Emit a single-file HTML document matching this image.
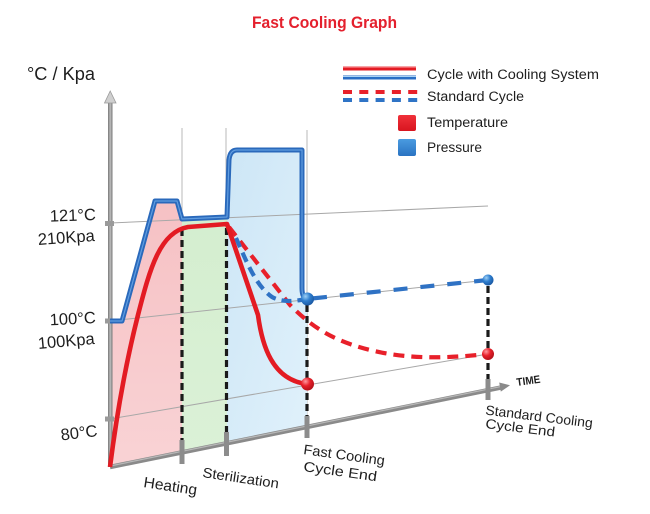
<!DOCTYPE html>
<html><head><meta charset="utf-8"><style>
html,body{margin:0;padding:0;background:#fff;}
svg{display:block;}
text{font-family:"Liberation Sans",sans-serif;fill:#1e1e1e;}
</style></head><body>
<svg width="650" height="514" viewBox="0 0 650 514" xmlns="http://www.w3.org/2000/svg">
<defs>
<linearGradient id="pink" x1="0" y1="0" x2="0" y2="1"><stop offset="0" stop-color="#f6c1c4"/><stop offset="1" stop-color="#f9d3d5"/></linearGradient>
<linearGradient id="green" x1="0" y1="0" x2="0" y2="1"><stop offset="0" stop-color="#d4eecf"/><stop offset="1" stop-color="#dbf1d7"/></linearGradient>
<linearGradient id="blue" x1="0" y1="0" x2="1" y2="1"><stop offset="0" stop-color="#cde6f6"/><stop offset="1" stop-color="#e0f1fb"/></linearGradient>
<linearGradient id="yax" x1="0" y1="0" x2="1" y2="0"><stop offset="0" stop-color="#767676"/><stop offset="0.5" stop-color="#bcbcbc"/><stop offset="1" stop-color="#767676"/></linearGradient>
<radialGradient id="bdot" cx="0.35" cy="0.3" r="0.7"><stop offset="0" stop-color="#9fd0f5"/><stop offset="0.5" stop-color="#2f7fd0"/><stop offset="1" stop-color="#1b5aa5"/></radialGradient>
<radialGradient id="rdot" cx="0.35" cy="0.3" r="0.7"><stop offset="0" stop-color="#ff9aa0"/><stop offset="0.5" stop-color="#e8202a"/><stop offset="1" stop-color="#b5121a"/></radialGradient>
<linearGradient id="rsq" x1="0" y1="0" x2="0" y2="1"><stop offset="0" stop-color="#f0313a"/><stop offset="1" stop-color="#d8151f"/></linearGradient>
<linearGradient id="bsq" x1="0" y1="0" x2="0" y2="1"><stop offset="0" stop-color="#4a9be0"/><stop offset="1" stop-color="#2a73c2"/></linearGradient>
</defs>

<!-- Title -->
<text x="252" y="28" font-size="16.5" font-weight="bold" style="fill:#e4202d" textLength="145" lengthAdjust="spacingAndGlyphs">Fast Cooling Graph</text>

<!-- Y axis unit label -->
<text x="27" y="80" font-size="18" textLength="68" lengthAdjust="spacingAndGlyphs">°C / Kpa</text>

<!-- Legend -->
<line x1="343" y1="68.5" x2="416" y2="68.5" stroke="#e31b23" stroke-width="4"/>
<line x1="343" y1="67.3" x2="416" y2="67.3" stroke="#f7777c" stroke-width="1"/>
<line x1="343" y1="77.5" x2="416" y2="77.5" stroke="#2a6ec4" stroke-width="4"/>
<line x1="343" y1="76.5" x2="416" y2="76.5" stroke="#a9d4f5" stroke-width="1"/>
<line x1="343" y1="92" x2="418" y2="92" stroke="#e8202a" stroke-width="4" stroke-dasharray="9 7.3"/>
<line x1="343" y1="100" x2="418" y2="100" stroke="#2f74c6" stroke-width="4" stroke-dasharray="9 7.3"/>
<rect x="398" y="115" width="18" height="16" rx="2" fill="url(#rsq)"/>
<rect x="398" y="139" width="18" height="17" rx="2" fill="url(#bsq)"/>
<text x="427" y="79" font-size="13.5" textLength="172" lengthAdjust="spacingAndGlyphs">Cycle with Cooling System</text>
<text x="427" y="101" font-size="13.5" textLength="97" lengthAdjust="spacingAndGlyphs">Standard Cycle</text>
<text x="427" y="127" font-size="13.5" textLength="81" lengthAdjust="spacingAndGlyphs">Temperature</text>
<text x="427" y="152" font-size="13.5" textLength="55" lengthAdjust="spacingAndGlyphs">Pressure</text>

<!-- vertical grid lines (upper parts) -->
<line x1="182" y1="128" x2="182" y2="452" stroke="#b8b8b8" stroke-width="1"/>
<line x1="226" y1="128" x2="226" y2="443" stroke="#b8b8b8" stroke-width="1"/>
<line x1="307" y1="130" x2="307" y2="427" stroke="#b8b8b8" stroke-width="1"/>

<!-- fills -->
<path d="M111,467 L111,321 L122,321 L155,201 L177,201 L182,219 L182,452 Z" fill="url(#pink)"/>
<path d="M182,219 L227,217 L227,443 L182,452 Z" fill="url(#green)"/>
<path d="M227,443 L227,217 L229,160 Q230,150 237,150 L302,150 L302,290 Q303,299 307,299 L307,427 Z" fill="url(#blue)"/>

<!-- horizontal (perspective) grid lines -->
<line x1="110" y1="223" x2="488" y2="206" stroke="#a8a8a8" stroke-width="1"/>
<line x1="110" y1="321" x2="488" y2="280" stroke="#a8a8a8" stroke-width="1"/>
<line x1="110" y1="419" x2="488" y2="354" stroke="#a8a8a8" stroke-width="1"/>

<!-- axes -->
<rect x="108" y="101" width="4.5" height="366" fill="url(#yax)"/>
<polygon points="110.2,91 116,103 104.5,103" fill="#cfcfcf" stroke="#9a9a9a" stroke-width="0.8"/>
<line x1="110" y1="467" x2="502" y2="387.3" stroke="#8a8a8a" stroke-width="4.5"/>
<line x1="110" y1="466" x2="502" y2="386.3" stroke="#b8b8b8" stroke-width="1.2"/>
<polygon points="510,385.3 500.8,391.6 499.2,382.5" fill="#8a8a8a"/>
<!-- y ticks -->
<rect x="105" y="221" width="9" height="5" fill="#9a9a9a"/>
<rect x="105" y="318.5" width="9" height="5" fill="#9a9a9a"/>
<rect x="105" y="416.5" width="9" height="5" fill="#9a9a9a"/>

<!-- black dashed verticals -->
<g stroke="#1a1a1a" stroke-width="3.2" stroke-dasharray="7 4">
<line x1="182" y1="229" x2="182" y2="446"/>
<line x1="226.5" y1="228" x2="226.5" y2="438"/>
<line x1="307" y1="305" x2="307" y2="420"/>
<line x1="488" y1="286" x2="488" y2="382"/>
</g>

<!-- x ticks -->
<rect x="179.5" y="440" width="5" height="24" fill="#8c8c8c"/>
<rect x="224" y="432" width="5" height="24" fill="#8c8c8c"/>
<rect x="304.5" y="416" width="5" height="22" fill="#8c8c8c"/>
<rect x="485.5" y="379" width="5" height="21" fill="#8c8c8c"/>

<!-- standard cycle dashed curves -->
<path d="M229,227 L290,305 C310,325 330,340 370,350 C410,360 450,358 488,354" fill="none" stroke="#e8202a" stroke-width="4.2" stroke-dasharray="11 7"/>
<path d="M236,238 C246,260 255,285 272,297 C283,303 295,301 307,299" fill="none" stroke="#2f72c4" stroke-width="4.2" stroke-dasharray="10 6"/>
<line x1="313" y1="298.4" x2="484" y2="280.4" stroke="#2f72c4" stroke-width="4.2" stroke-dasharray="14 13"/>

<!-- pressure solid -->
<path d="M110,321 L122,321 L155,201 L177,201 L182,219 L227,217 L229,160 Q230,150 237,150 L302,150 L302,288 Q302,298 307,299" fill="none" stroke="#2a69bb" stroke-width="5" stroke-linejoin="round"/>
<path d="M110,321 L122,321 L155,201 L177,201 L182,219 L227,217 L229,160 Q230,150 237,150 L302,150 L302,288 Q302,298 307,299" fill="none" stroke="#6eaaea" stroke-width="1.2" stroke-linejoin="round" opacity="0.8"/>

<!-- temperature solid -->
<path d="M110,467 C116,420 124,370 138,315 C150,268 160,232 188,227 L227,224 L258,315 C262,345 272,380 307,384" fill="none" stroke="#e31b23" stroke-width="4.6" stroke-linejoin="round"/>

<!-- dots -->
<circle cx="307.5" cy="299" r="6.5" fill="url(#bdot)"/>
<circle cx="307.5" cy="384" r="6.5" fill="url(#rdot)"/>
<circle cx="488" cy="280" r="5.5" fill="url(#bdot)"/>
<circle cx="488" cy="354" r="6" fill="url(#rdot)"/>

<!-- y labels -->
<text font-size="16.5" text-anchor="end" transform="translate(96,220) rotate(-2)">121°C</text>
<text font-size="16.5" text-anchor="end" transform="translate(95,241) rotate(-4)">210Kpa</text>
<text font-size="16.5" text-anchor="end" transform="translate(96,323) rotate(-3)">100°C</text>
<text font-size="16.5" text-anchor="end" transform="translate(95,344) rotate(-5)">100Kpa</text>
<text font-size="16.5" text-anchor="end" transform="translate(98,436) rotate(-7)">80°C</text>

<!-- x labels -->
<text font-size="15" transform="translate(143,487) rotate(8.5)" textLength="54" lengthAdjust="spacingAndGlyphs">Heating</text>
<text font-size="14" transform="translate(202,477) rotate(8.5)" textLength="77" lengthAdjust="spacingAndGlyphs">Sterilization</text>
<text font-size="14" transform="translate(303,454) rotate(8)" textLength="82" lengthAdjust="spacingAndGlyphs">Fast Cooling</text>
<text font-size="14" transform="translate(303,471) rotate(8)" textLength="74" lengthAdjust="spacingAndGlyphs">Cycle End</text>
<text font-size="13.5" transform="translate(485,414.5) rotate(7)" textLength="108" lengthAdjust="spacingAndGlyphs">Standard Cooling</text>
<text font-size="13.5" transform="translate(485,428) rotate(7)" textLength="70" lengthAdjust="spacingAndGlyphs">Cycle End</text>
<text font-size="11" font-weight="bold" transform="translate(517,386) rotate(-8)" textLength="24" lengthAdjust="spacingAndGlyphs">TIME</text>
</svg>
</body></html>
